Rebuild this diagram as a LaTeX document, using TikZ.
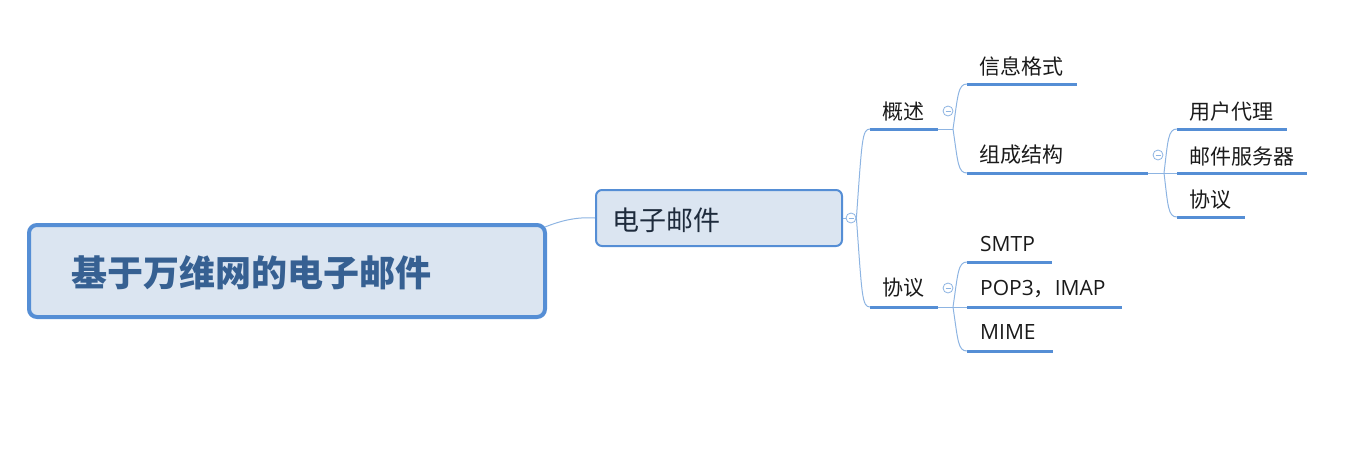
\documentclass[tikz,border=0pt]{standalone}
\usepackage{fontspec}
\setmainfont{Noto Sans CJK SC}
\newfontfamily\latfont{Open Sans}
\definecolor{ublue}{HTML}{558ED5}
\definecolor{lineblue}{HTML}{8DB4E2}
\definecolor{fillblue}{HTML}{DBE5F1}
\definecolor{roottxt}{HTML}{366092}
\definecolor{maintxt}{HTML}{1E2B3C}
\definecolor{subtxt}{HTML}{1A1A1A}
\begin{document}
\begin{tikzpicture}[x=1pt,y=-1pt,
  conn/.style={draw=lineblue,line width=1pt},
  uline/.style={draw=ublue,line width=3pt},
  lbl/.style={anchor=base west,inner sep=0pt,font=\fontsize{21}{21}\selectfont,text=subtxt},
  fold/.style={circle,draw=lineblue,fill=white,minimum size=10pt,inner sep=0pt,line width=0.8pt,
    path picture={\draw[lineblue,line width=0.8pt] ([xshift=2.5pt]path picture bounding box.west) -- ([xshift=-2.5pt]path picture bounding box.east);}},
  rootbox/.style={draw=ublue,fill=fillblue,line width=4pt,rounded corners=8pt,minimum width=516pt,minimum height=92pt,inner sep=0pt},
  mainbox/.style={draw=ublue,fill=fillblue,line width=2pt,rounded corners=6pt,minimum width=246pt,minimum height=56pt,inner sep=0pt}
]
\useasboundingbox (0,0) rectangle (1350,461);

% root
\node[rootbox] (root) at (287,271) {};
\node[anchor=base west,inner sep=0pt,text=roottxt,font=\fontsize{36}{36}\selectfont\bfseries] (roottext) at (71,286) {基于万维网的电子邮件};

% central
\node[mainbox] (central) at (719,218) {};
\node[anchor=base west,inner sep=0pt,text=maintxt,font=\fontsize{27}{27}\selectfont] (centraltext) at (612,230) {电子邮件};
\draw[conn] ([shift={(-2,4)}]root.north east) .. controls (565,219) and (580,217) .. (central.west);

\node[fold] (f1) at (851,218) {};
\draw[conn] (central.east) -- (f1.west);

% level 1
\coordinate (gs-a) at (870,129); \coordinate (gs-b) at (938,129);
\coordinate (xy-a) at (870,307); \coordinate (xy-b) at (938,307);
\node[lbl] (gs) at (882,119.5) {概述};
\node[lbl] (xy) at (882,295.5) {协议};
\draw[uline] (gs-a) -- (gs-b);
\draw[uline] (xy-a) -- (xy-b);
\draw[conn] (f1.east) .. controls (862,140) and (862,129) .. (gs-a);
\draw[conn] (f1.east) .. controls (862,296) and (862,307) .. (xy-a);

% 概述 children
\node[fold] (f2) at (948,111) {};
\coordinate (j2) at (953,129);
\coordinate (xx-a) at (967,84); \coordinate (xx-b) at (1077,84);
\coordinate (zc-a) at (967,173); \coordinate (zc-b) at (1148,173);
\node[lbl] (xx) at (979,74.5) {信息格式};
\node[lbl] (zc) at (979,162.5) {组成结构};
\draw[uline] (xx-a) -- (xx-b);
\draw[uline] (zc-a) -- (zc-b);
\draw[conn] (gs-b) -- (j2);
\draw[conn] (j2) .. controls (958,95) and (958,84) .. (xx-a);
\draw[conn] (j2) .. controls (958,163) and (958,173) .. (zc-a);

% 组成结构 children
\node[fold] (f3) at (1158,155) {};
\coordinate (j3) at (1164,173);
\coordinate (yh-a) at (1177,129); \coordinate (yh-b) at (1287,129);
\coordinate (yj-a) at (1177,173); \coordinate (yj-b) at (1307,173);
\coordinate (xy2-a) at (1177,217); \coordinate (xy2-b) at (1245,217);
\node[lbl] (yh) at (1189,119.5) {用户代理};
\node[lbl] (yj) at (1189,164) {邮件服务器};
\node[lbl] (xy2) at (1189,207.5) {协议};
\draw[uline] (yh-a) -- (yh-b);
\draw[uline] (yj-a) -- (yj-b);
\draw[uline] (xy2-a) -- (xy2-b);
\draw[conn] (zc-b) -- (yj-a);
\draw[conn] (j3) .. controls (1168,140) and (1168,129) .. (yh-a);
\draw[conn] (j3) .. controls (1168,206) and (1168,217) .. (xy2-a);

% 协议 children
\node[fold] (f4) at (948,288) {};
\coordinate (j4) at (953,307);
\coordinate (sm-a) at (967,262); \coordinate (sm-b) at (1052,262);
\coordinate (po-a) at (967,307); \coordinate (po-b) at (1122,307);
\coordinate (mi-a) at (967,351); \coordinate (mi-b) at (1053,351);
\node[lbl] (sm) at (980,251) {\latfont SMTP};
\node[lbl] (po) at (980,295.5) {{\latfont POP3}，{\latfont IMAP}};
\node[lbl] (mi) at (980,339.5) {\latfont MIME};
\draw[uline] (sm-a) -- (sm-b);
\draw[uline] (po-a) -- (po-b);
\draw[uline] (mi-a) -- (mi-b);
\draw[conn] (xy-b) -- (po-a);
\draw[conn] (j4) .. controls (958,273) and (958,262) .. (sm-a);
\draw[conn] (j4) .. controls (958,341) and (958,351) .. (mi-a);
\end{tikzpicture}
\end{document}
